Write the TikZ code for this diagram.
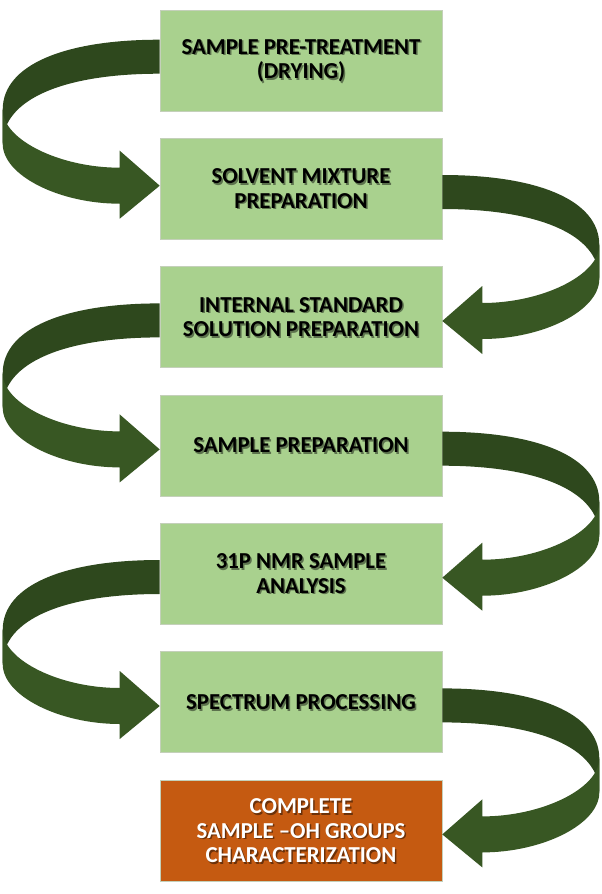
\documentclass[tikz,border=0pt]{standalone}
\usepackage{fontspec}
\setmainfont{Carlito}
\definecolor{boxgreen}{HTML}{A9D18E}
\definecolor{boxorange}{HTML}{C55A11}
\definecolor{arrdark}{HTML}{2E481D}
\definecolor{arrlight}{HTML}{385723}
\definecolor{boxedge}{HTML}{C4D0BA}
\newcommand\ribbonarrow{%
  \fill[arrdark] (0,37) .. controls (-95,37) and (-157,62) .. (-157,107)
     -- (-157,141) .. controls (-157,96) and (-95,71) .. (0,71) -- cycle;
  \fill[arrlight] (-157,107) .. controls (-157,137) and (-100,165) .. (-40,165)
     -- (-40,148) -- (0,183) -- (-40,216) -- (-40,201)
     .. controls (-100,201) and (-157,173) .. (-157,141) -- cycle;
}
\begin{document}
\begin{tikzpicture}[x=1pt,y=-1pt,
  boxfont/.style={font=\fontsize{22.8}{24.5}\selectfont\bfseries},
  stepbox/.style={rectangle, fill=boxgreen, draw=boxedge, line width=0.6pt,
    minimum width=282pt, minimum height=101pt, inner sep=0pt, align=center,
    boxfont, text=black,
    path picture={\node[align=center, boxfont, text=black, opacity=0.45]
      at ([shift={(1.5pt,-1.5pt)}]path picture bounding box.center) {#1};},
    node contents={#1}},
  endbox/.style={stepbox={#1}, fill=boxorange, text=white}
]
\useasboundingbox (0,0) rectangle (602,894);
\fill[white] (0,0) rectangle (602,894);

\node (b1) at (301,60.5) [stepbox={SAMPLE PRE-TREATMENT\\(DRYING)}];
\node (b2) at (301,188.8) [stepbox={SOLVENT MIXTURE\\PREPARATION}];
\node (b3) at (301,317.2) [stepbox={INTERNAL STANDARD\\SOLUTION PREPARATION}];
\node (b4) at (301,445.5) [stepbox={SAMPLE PREPARATION}];
\node (b5) at (301,573.8) [stepbox={31P NMR SAMPLE\\ANALYSIS}];
\node (b6) at (301,702.2) [stepbox={SPECTRUM PROCESSING}];
\node (b7) at (301,831) [endbox={COMPLETE\\SAMPLE --OH GROUPS\\CHARACTERIZATION}];

\begin{scope}[shift={([yshift=7pt]b1.north west)}] \ribbonarrow \end{scope}
\begin{scope}[shift={(b2.north east)}, xscale=-1] \ribbonarrow \end{scope}
\begin{scope}[shift={(b3.north west)}] \ribbonarrow \end{scope}
\begin{scope}[shift={(b4.north east)}, xscale=-1] \ribbonarrow \end{scope}
\begin{scope}[shift={(b5.north west)}] \ribbonarrow \end{scope}
\begin{scope}[shift={(b6.north east)}, xscale=-1] \ribbonarrow \end{scope}
\end{tikzpicture}
\end{document}
